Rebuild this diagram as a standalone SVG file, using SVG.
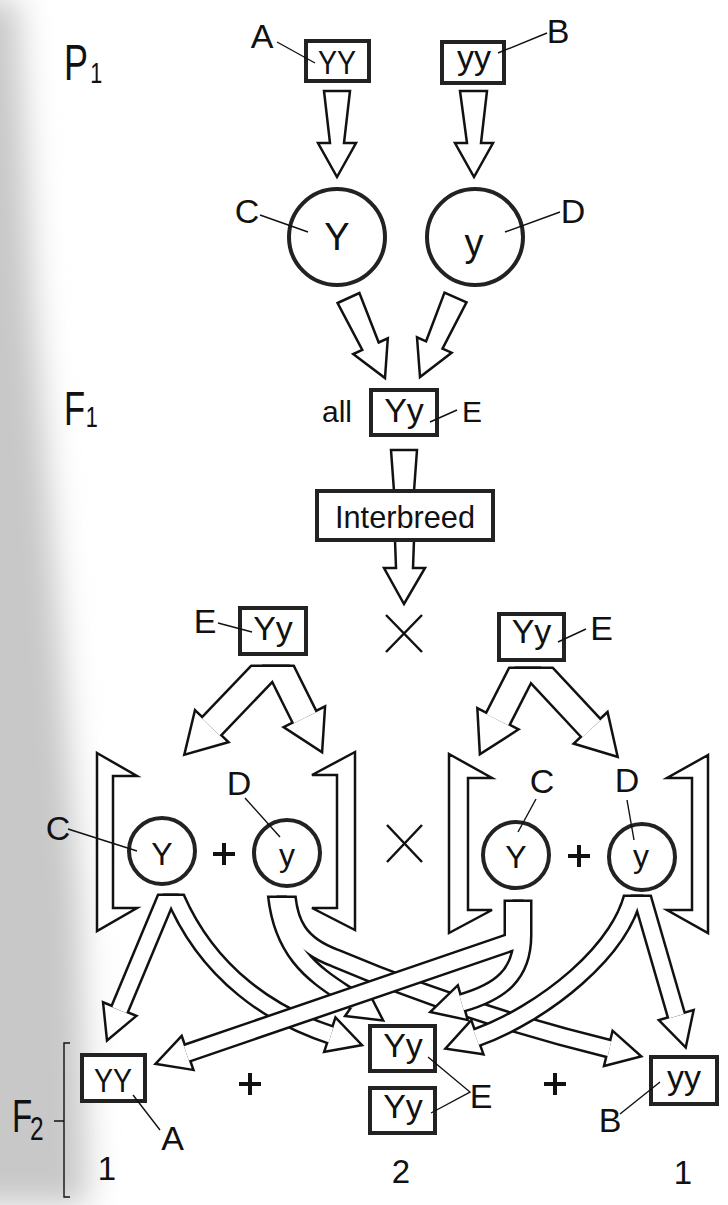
<svg xmlns="http://www.w3.org/2000/svg" width="728" height="1205" viewBox="0 0 728 1205">
<defs>
<filter id="soft" x="-100%" y="-10%" width="300%" height="120%"><feGaussianBlur stdDeviation="16"/></filter>
<clipPath id="cLFb"><rect x="0" y="664.5" width="728" height="540"/></clipPath>
<clipPath id="cLFw"><rect x="0" y="667" width="728" height="540"/></clipPath>
<clipPath id="cRFb"><rect x="0" y="666.5" width="728" height="540"/></clipPath>
<clipPath id="cRFw"><rect x="0" y="669" width="728" height="540"/></clipPath>
<clipPath id="cLCb"><rect x="0" y="893.5" width="728" height="320"/></clipPath>
<clipPath id="cLCw"><rect x="0" y="896" width="728" height="320"/></clipPath>
<clipPath id="cLDb"><rect x="0" y="895.5" width="728" height="320"/></clipPath>
<clipPath id="cLDw"><rect x="0" y="898" width="728" height="320"/></clipPath>
<clipPath id="cRCb"><rect x="0" y="899.5" width="728" height="320"/></clipPath>
<clipPath id="cRCw"><rect x="0" y="902" width="728" height="320"/></clipPath>
<clipPath id="cRDb"><rect x="0" y="894.5" width="728" height="320"/></clipPath>
<clipPath id="cRDw"><rect x="0" y="897" width="728" height="320"/></clipPath>
</defs>
<style>
.t{font-family:"Liberation Sans",Arial,sans-serif;fill:#111;text-anchor:middle}
.s{text-anchor:start}
.lb{font-size:34px}
.bx{fill:#fff;stroke:#222;stroke-width:4}
.ci{fill:#fff;stroke:#222;stroke-width:4}
.ld{stroke:#111;stroke-width:1.4;fill:none}
.ol{fill:#fff;stroke:#111;stroke-width:2.5;stroke-linejoin:miter}
.sb{fill:none;stroke:#111;stroke-linejoin:miter}
.sw{fill:none;stroke:#fff;stroke-linejoin:miter}
.hb{fill:#111;stroke:#111;stroke-width:5;stroke-linejoin:miter}
.hw{fill:#fff;stroke:none}
.pl{stroke:#111;stroke-width:4;fill:none}
.xm{stroke:#111;stroke-width:2.5;fill:none}
</style>
<rect x="0" y="0" width="728" height="1205" fill="#fff"/>
<path d="M -80 0 L 18 0 L 34 300 L 58 600 L 80 900 L 88 1205 L -80 1205 Z" fill="#c8c8c8" filter="url(#soft)"/>

<g id="connectors">
 <polygon id="arrow-a-c" class="ol" points="324,91 350,91 344,143 356,143 337,177 318,143 330,143"/>
 <polygon id="arrow-b-d" class="ol" points="460,91 487,91 481,143 493,143 474,177 455,143 467,143"/>
 <polygon id="arrow-c-e" class="ol" points="337.6,303 359.4,293 378.7,342.5 387.8,338.3 385,378 353.2,354.1 362.3,349.9"/>
 <polygon id="arrow-d-e" class="ol" points="444.5,292.6 466.5,302.4 442.5,348.7 451.6,352.7 420,377 417,337.3 426.1,341.3"/>
 <polygon id="stem-e" class="ol" points="391,450 417,450 414,491 394,491"/>
 <polygon id="arrow-interbreed" class="ol" points="395,540 414,540 413,568 425,568 404,604 384,568 396,568"/>

 <g id="fork-e-left">
  <g clip-path="url(#cLFb)">
   <path class="sb" stroke-width="29" d="M 279.8 655 L 210.9 727"/>
   <path class="sb" stroke-width="29" d="M 273.6 655 L 304.9 717.8"/>
  </g>
  <polygon class="hb" points="226.1,741.5 186,753 195.7,712.5"/>
  <polygon class="hb" points="323.7,708.4 321,750 286.1,727.2"/>
  <g clip-path="url(#cLFw)">
   <path class="sw" stroke-width="24" d="M 279.8 655 L 210.9 727"/>
   <path class="sw" stroke-width="24" d="M 273.6 655 L 304.9 717.8"/>
  </g>
  <polygon class="hw" points="226.1,741.5 186,753 195.7,712.5"/>
  <polygon class="hw" points="323.7,708.4 321,750 286.1,727.2"/>
 </g>

 <g id="fork-e-right">
  <g clip-path="url(#cRFb)">
   <path class="sb" stroke-width="29" d="M 529.5 657 L 497.4 719.9"/>
   <path class="sb" stroke-width="29" d="M 524.6 657 L 591.45 728.7"/>
  </g>
  <polygon class="hb" points="516.1,729.5 481,752 478.7,710.3"/>
  <polygon class="hb" points="606.8,714.4 616,755 576.1,743"/>
  <g clip-path="url(#cRFw)">
   <path class="sw" stroke-width="24" d="M 529.5 657 L 497.4 719.9"/>
   <path class="sw" stroke-width="24" d="M 524.6 657 L 591.45 728.7"/>
  </g>
  <polygon class="hw" points="516.1,729.5 481,752 478.7,710.3"/>
  <polygon class="hw" points="606.8,714.4 616,755 576.1,743"/>
 </g>

 <g id="fork-c-left">
  <g clip-path="url(#cLCb)">
   <path class="sb" stroke-width="20" d="M 172 884 L 119.3 1010.2"/>
   <path class="sb" stroke-width="20" d="M 170 884 C 205 978 278.75 1017.95 331 1035"/>
  </g>
  <polygon class="hb" points="134.1,1016.2 108,1038 104.5,1004.2"/>
  <polygon class="hb" points="326,1050.2 359.5,1044.3 336,1019.8"/>
  <g clip-path="url(#cLCw)">
   <path class="sw" stroke-width="15" d="M 172 884 L 119.3 1010.2"/>
   <path class="sw" stroke-width="15" d="M 170 884 C 205 978 278.75 1017.95 331 1035"/>
  </g>
  <polygon class="hw" points="134.1,1016.2 108,1038 104.5,1004.2"/>
  <polygon class="hw" points="326,1050.2 359.5,1044.3 336,1019.8"/>
 </g>

 <g id="fork-d-left">
  <g clip-path="url(#cLDb)">
   <path class="sb" stroke-width="20" d="M 276 885 C 279.75 960 323.6 979.1 356.4 1001.9"/>
   <path class="sb" stroke-width="20" d="M 286 885 C 287 925 300 945 335 958 Q 470 1015 609.5 1048.7"/>
  </g>
  <polygon class="hb" points="347.3,1015 381,1019 365.5,988.8"/>
  <polygon class="hb" points="605.7,1064.3 638.7,1055.8 613.3,1033.1"/>
  <g clip-path="url(#cLDw)">
   <path class="sw" stroke-width="15" d="M 276 885 C 279.75 960 323.6 979.1 356.4 1001.9"/>
   <path class="sw" stroke-width="15" d="M 286 885 C 287 925 300 945 335 958 Q 470 1015 609.5 1048.7"/>
  </g>
  <polygon class="hw" points="347.3,1015 381,1019 365.5,988.8"/>
  <polygon class="hw" points="605.7,1064.3 638.7,1055.8 613.3,1033.1"/>
 </g>

 <g id="fork-d-right">
  <g clip-path="url(#cRDb)">
   <path class="sb" stroke-width="20" d="M 638.6 885 L 676.6 1016.2"/>
   <path class="sb" stroke-width="20" d="M 635 885 C 627 950 540 1015 476.2 1037.7"/>
  </g>
  <polygon class="hb" points="692,1011.7 685,1045 661.2,1020.7"/>
  <polygon class="hb" points="481.6,1052.8 447.9,1047.8 470.8,1022.6"/>
  <g clip-path="url(#cRDw)">
   <path class="sw" stroke-width="15" d="M 638.6 885 L 676.6 1016.2"/>
   <path class="sw" stroke-width="15" d="M 635 885 C 627 950 540 1015 476.2 1037.7"/>
  </g>
  <polygon class="hw" points="692,1011.7 685,1045 661.2,1020.7"/>
  <polygon class="hw" points="481.6,1052.8 447.9,1047.8 470.8,1022.6"/>
 </g>

 <g id="fork-c-right">
  <g clip-path="url(#cRCb)">
   <path class="sb" stroke-width="20" d="M 513.5 889 L 513.5 941.3 L 186.4 1053.3"/>
   <path class="sb" stroke-width="20" d="M 522.5 889 L 522.5 935 C 522.5 975 500 992 461.6 1003"/>
  </g>
  <polygon class="hb" points="191.6,1068.4 158,1063 181.2,1038.2"/>
  <polygon class="hb" points="466,1018.4 432.8,1011.3 457.2,987.6"/>
  <g clip-path="url(#cRCw)">
   <path class="sw" stroke-width="15" d="M 513.5 889 L 513.5 941.3 L 186.4 1053.3"/>
   <path class="sw" stroke-width="15" d="M 522.5 889 L 522.5 935 C 522.5 975 500 992 461.6 1003"/>
  </g>
  <polygon class="hw" points="191.6,1068.4 158,1063 181.2,1038.2"/>
  <polygon class="hw" points="466,1018.4 432.8,1011.3 457.2,987.6"/>
 </g>
</g>

<g id="generation-labels">
 <text class="t s" transform="translate(64,80) scale(0.72,1)" font-size="50">P<tspan font-size="30" dx="3" dy="3">1</tspan></text>
 <text class="t s" transform="translate(64,425) scale(0.72,1)" font-size="48">F<tspan font-size="30" dx="1" dy="2">1</tspan></text>
 <text class="t s" transform="translate(12,1132) scale(0.72,1)" font-size="46">F<tspan font-size="34" dx="-3" dy="8">2</tspan></text>
 <path class="ld" stroke-width="2" d="M 70 1043 L 64 1043 L 64 1197 L 70 1197 M 54 1121 L 64 1121"/>
</g>

<g id="node-p1-YY">
 <rect class="bx" x="306" y="41" width="63" height="40"/>
 <text class="t" x="337" y="73.5" font-size="34" textLength="38" lengthAdjust="spacingAndGlyphs">YY</text>
 <text class="t lb" x="262" y="48">A</text>
 <line class="ld" x1="277" y1="42" x2="315" y2="63"/>
</g>
<g id="node-p1-yy">
 <rect class="bx" x="442" y="42" width="62" height="41"/>
 <text class="t" x="474" y="69" font-size="34">yy</text>
 <text class="t lb" x="558" y="43">B</text>
 <line class="ld" x1="498" y1="53" x2="547" y2="33"/>
</g>
<g id="node-gamete-Y">
 <circle class="ci" cx="337" cy="237" r="48"/>
 <text class="t" x="337" y="250" font-size="38">Y</text>
 <text class="t lb" x="247" y="223">C</text>
 <line class="ld" x1="260" y1="215" x2="308" y2="232"/>
</g>
<g id="node-gamete-y">
 <circle class="ci" cx="475" cy="237" r="48"/>
 <text class="t" x="474" y="256" font-size="38">y</text>
 <text class="t lb" x="573" y="223">D</text>
 <line class="ld" x1="560" y1="212" x2="505" y2="232"/>
</g>
<g id="node-f1">
 <text class="t" x="337" y="422" font-size="30">all</text>
 <rect class="bx" x="371" y="390" width="66" height="45"/>
 <text class="t" x="404" y="422" font-size="34">Yy</text>
 <text class="t" x="472" y="422" font-size="30">E</text>
 <line class="ld" x1="430" y1="422" x2="457" y2="410"/>
</g>
<g id="node-interbreed">
 <rect class="bx" x="317" y="491" width="176" height="49"/>
 <text class="t" x="405" y="528" font-size="32" textLength="140" lengthAdjust="spacingAndGlyphs">Interbreed</text>
</g>
<g id="node-parent-left">
 <rect class="bx" x="240" y="608" width="66" height="46"/>
 <text class="t" x="273" y="640" font-size="34">Yy</text>
 <text class="t lb" x="205" y="633">E</text>
 <line class="ld" x1="218" y1="623" x2="252" y2="632"/>
</g>
<g id="cross-top">
 <path class="xm" d="M 386 615 L 422 652 M 422 615 L 386 652"/>
</g>
<g id="node-parent-right">
 <rect class="bx" x="499" y="614" width="65" height="46"/>
 <text class="t" x="531.5" y="643" font-size="34">Yy</text>
 <text class="t lb" x="601.5" y="640">E</text>
 <line class="ld" x1="558" y1="642" x2="586" y2="629"/>
</g>

<g id="gametes-left">
 <polygon class="ol" points="97,753 137,776 113,776 113,908 137,908 97,931"/>
 <polygon class="ol" points="355,752 312,775 337,775 337,908 312,908 355,930"/>
 <circle class="ci" cx="162" cy="851" r="33"/>
 <text class="t" x="162" y="865" font-size="32">Y</text>
 <path class="pl" d="M 213 854 L 235 854 M 224 843 L 224 865"/>
 <circle class="ci" cx="287" cy="853" r="33"/>
 <text class="t" x="287" y="866" font-size="32">y</text>
 <text class="t lb" x="58" y="840">C</text>
 <line class="ld" x1="68" y1="829" x2="137" y2="851"/>
 <text class="t lb" x="239" y="795">D</text>
 <line class="ld" x1="245" y1="798" x2="280" y2="837"/>
</g>
<g id="cross-middle">
 <path class="xm" d="M 387 825 L 422 862 M 422 825 L 387 862"/>
</g>
<g id="gametes-right">
 <polygon class="ol" points="449,754 492,778 468,778 468,910 492,910 449,933"/>
 <polygon class="ol" points="708,755 667,778 692,778 692,910 667,910 708,933"/>
 <circle class="ci" cx="516" cy="855" r="33"/>
 <text class="t" x="516" y="868" font-size="32">Y</text>
 <path class="pl" d="M 568 856 L 590 856 M 579 845 L 579 867"/>
 <circle class="ci" cx="642" cy="857" r="33"/>
 <text class="t" x="641" y="867" font-size="32">y</text>
 <text class="t lb" x="542" y="793">C</text>
 <line class="ld" x1="536" y1="799" x2="518" y2="832"/>
 <text class="t lb" x="627" y="792">D</text>
 <line class="ld" x1="627" y1="800" x2="634" y2="840"/>
</g>

<g id="node-f2-YY">
 <rect class="bx" x="82" y="1055" width="63" height="46"/>
 <text class="t" x="113" y="1092" font-size="34" textLength="38" lengthAdjust="spacingAndGlyphs">YY</text>
 <text class="t lb" x="172.5" y="1150">A</text>
 <line class="ld" x1="133" y1="1095" x2="160" y2="1130"/>
 <text class="t" x="107" y="1180" font-size="33">1</text>
</g>
<g id="plus-left"><path class="pl" d="M 239 1084 L 261 1084 M 250 1073 L 250 1095"/></g>
<g id="node-f2-Yy">
 <rect class="bx" x="370" y="1026" width="65" height="45"/>
 <text class="t" x="403" y="1057" font-size="34">Yy</text>
 <rect class="bx" x="370" y="1088" width="65" height="45"/>
 <text class="t" x="403" y="1118" font-size="34">Yy</text>
 <text class="t lb" x="481" y="1108">E</text>
 <path class="ld" d="M 428 1057 L 470 1092 L 431 1113"/>
 <text class="t" x="401" y="1183" font-size="33">2</text>
</g>
<g id="plus-right"><path class="pl" d="M 544 1084 L 566 1084 M 555 1073 L 555 1095"/></g>
<g id="node-f2-yy">
 <rect class="bx" x="651" y="1057" width="66" height="47"/>
 <text class="t" x="684" y="1089" font-size="34">yy</text>
 <text class="t lb" x="610" y="1132">B</text>
 <line class="ld" x1="620" y1="1114" x2="660" y2="1082"/>
 <text class="t" x="683" y="1184" font-size="33">1</text>
</g>
</svg>
